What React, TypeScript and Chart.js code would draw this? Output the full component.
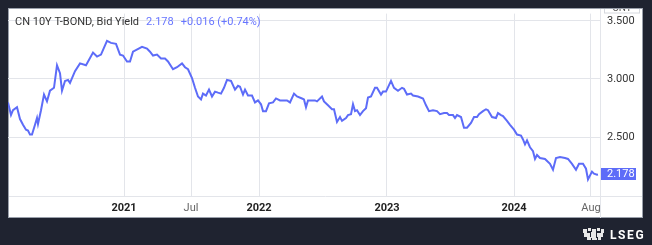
import React, { useEffect, useRef } from "react";
import { Chart, registerables } from "chart.js";

Chart.register(...registerables);

// bar index (session position along the time axis)
const barIndex = [
  0, 1.2, 2.0, 3.6, 4.8, 6.0, 7.2, 8.0, 8.8, 9.6, 10.8, 11.6, 12.0, 13.2, 14.4, 15.6, 16.8, 18.4, 19.6, 20.8,
  21.6, 22.8, 24.0, 24.8, 26.8, 28.8, 31.2, 34.0, 35.6, 37.2, 39.6, 41.2, 43.2, 44.8, 46.0, 47.6, 48.8, 50.0, 53.6, 55.6,
  56.8, 58.0, 59.6, 61.2, 62.8, 64.0, 66.0, 67.6, 69.6, 70.8, 72.0, 73.6, 74.8, 76.0, 77.2, 78.0, 79.2, 80.4, 81.6, 82.8,
  84.0, 85.2, 86.4, 87.6, 89.2, 90.8, 92.0, 92.8, 94.0, 94.8, 96.0, 97.6, 98.8, 100.0, 101.2, 102.0, 103.2, 104.4, 106.0, 107.2,
  108.8, 110.0, 111.6, 112.8, 114.4, 115.6, 117.6, 118.4, 119.2, 120.0, 122.8, 123.6, 125.6, 126.4, 128.0, 129.6, 130.4, 131.6, 132.8, 133.6,
  135.2, 136.0, 137.2, 138.0, 138.8, 139.6, 140.8, 142.0, 143.2, 144.0, 145.2, 146.8, 147.6, 149.2, 150.0, 151.2, 153.2, 154.4, 156.0, 157.6,
  158.4, 159.6, 161.2, 162.0, 164.0, 166.0, 167.2, 168.4, 170.0, 171.6, 172.8, 174.4, 175.6, 176.4, 178.0, 178.8, 179.6, 181.2, 182.4, 183.6,
  185.2, 186.4, 187.6, 188.4, 190.0, 191.2, 192.0, 193.6, 195.2, 196.0, 197.2, 198.0, 199.6, 200.8, 202.4, 203.6, 205.2, 206.0, 206.8, 207.6,
  208.8, 210.0, 210.8, 211.6, 212.8, 214.8, 216.8, 218.0, 219.2, 220.8, 222.8, 224.0, 225.6, 227.2, 228.4, 230.0, 231.2, 232.0, 233.6, 234.4,
  235.6, 236.0,
];

// CN 10Y bid yield (%)
const yieldValues = [
  2.798, 2.689, 2.731, 2.756, 2.655, 2.605, 2.563, 2.555, 2.521, 2.521, 2.605, 2.664, 2.613, 2.731, 2.866, 2.807, 2.899, 2.924, 3.118, 3.05,
  2.899, 2.983, 2.992, 2.966, 3.067, 3.134, 3.118, 3.227, 3.193, 3.21, 3.328, 3.311, 3.303, 3.21, 3.202, 3.151, 3.151, 3.235, 3.277, 3.261,
  3.235, 3.202, 3.21, 3.176, 3.176, 3.151, 3.084, 3.101, 3.134, 3.101, 3.084, 3.008, 2.924, 2.849, 2.824, 2.874, 2.857, 2.908, 2.849, 2.891,
  2.882, 2.874, 2.924, 2.992, 2.983, 2.908, 2.941, 2.933, 2.866, 2.908, 2.857, 2.857, 2.798, 2.815, 2.782, 2.723, 2.723, 2.79, 2.798, 2.832,
  2.815, 2.815, 2.815, 2.798, 2.874, 2.849, 2.832, 2.824, 2.756, 2.815, 2.815, 2.807, 2.849, 2.807, 2.773, 2.739, 2.739, 2.63, 2.672, 2.639,
  2.664, 2.689, 2.697, 2.782, 2.723, 2.731, 2.689, 2.723, 2.748, 2.84, 2.849, 2.924, 2.924, 2.866, 2.891, 2.891, 2.983, 2.924, 2.899, 2.924,
  2.916, 2.866, 2.874, 2.857, 2.849, 2.832, 2.773, 2.723, 2.731, 2.723, 2.697, 2.706, 2.706, 2.689, 2.689, 2.664, 2.689, 2.672, 2.58, 2.58,
  2.622, 2.672, 2.672, 2.697, 2.723, 2.739, 2.731, 2.672, 2.664, 2.706, 2.689, 2.681, 2.639, 2.605, 2.563, 2.521, 2.513, 2.479, 2.437, 2.471,
  2.412, 2.378, 2.311, 2.345, 2.319, 2.311, 2.269, 2.218, 2.319, 2.328, 2.319, 2.311, 2.269, 2.218, 2.269, 2.269, 2.227, 2.134, 2.202, 2.185,
  2.176, 2.178,
];

const xTickPositions = [46.4, 73.2, 100.4, 151.6, 202.4, 233.2];
const xTickLabels = ["2021", "Jul", "2022", "2023", "2024", "Aug"];
const xTickIsYear = [true, false, true, true, true, false];
const yTickValues = [2.5, 3.0, 3.5];

const title = "CN 10Y T-BOND, Bid Yield";
const lastValue = 2.178;
const change = 0.016;
const changePct = 0.74;
const currency = "CNY";

const BG = "#1f2330";
const LINE = "#5d6cf8";
const BLUE_TEXT = "#6775ff";
const GRID = "#e3e5ea";
const FONT = "Roboto, 'Noto Sans', sans-serif";

const decorPlugin = {
  id: "decor",
  beforeDraw(chart: any) {
    const { ctx, width, height } = chart;
    ctx.save();
    ctx.fillStyle = BG;
    ctx.fillRect(0, 0, width, height);
    ctx.fillStyle = "#ffffff";
    ctx.fillRect(8, 8, 635, 210);
    ctx.strokeStyle = "#9aa0ab";
    ctx.lineWidth = 1;
    ctx.strokeRect(8.5, 8.5, 634, 209);
    ctx.restore();
  },
  afterDraw(chart: any) {
    const { ctx, chartArea } = chart;
    const yScale = chart.scales.y;
    ctx.save();
    // axis separators
    ctx.strokeStyle = GRID;
    ctx.lineWidth = 1;
    ctx.beginPath();
    ctx.moveTo(chartArea.right + 0.5, 9);
    ctx.lineTo(chartArea.right + 0.5, 218);
    ctx.moveTo(9, chartArea.bottom + 0.5);
    ctx.lineTo(642, chartArea.bottom + 0.5);
    ctx.stroke();

    // CNY unit label (mostly hidden above the panel top)
    ctx.save();
    ctx.beginPath();
    ctx.rect(601, 9, 41, 20);
    ctx.clip();
    ctx.strokeStyle = "#d5d8de";
    ctx.strokeRect(604.5, 0.5, 35, 12.5);
    ctx.fillStyle = "#555";
    ctx.font = `10px ${FONT}`;
    ctx.textBaseline = "alphabetic";
    ctx.textAlign = "center";
    ctx.fillText(currency, 622, 11);
    ctx.restore();

    // title
    ctx.textBaseline = "middle";
    ctx.textAlign = "left";
    ctx.font = `11px ${FONT}`;
    let x = 15;
    const ty = 22;
    ctx.fillStyle = "#333";
    ctx.fillText(title, x, ty);
    x += ctx.measureText(title).width + 7;
    ctx.fillStyle = BLUE_TEXT;
    const lastTxt = lastValue.toFixed(3);
    ctx.fillText(lastTxt, x, ty);
    x += ctx.measureText(lastTxt).width + 7;
    ctx.fillText(`+${change.toFixed(3)} (+${changePct.toFixed(2)}%)`, x, ty);

    // last price label
    const py = yScale.getPixelForValue(yieldValues[yieldValues.length - 1]);
    ctx.fillStyle = LINE;
    ctx.fillRect(chartArea.right + 1, Math.round(py) - 6, 35, 12);
    ctx.fillStyle = "#ffffff";
    ctx.font = `11px ${FONT}`;
    ctx.textAlign = "left";
    ctx.fillText(yieldValues[yieldValues.length - 1].toFixed(3), chartArea.right + 7, Math.round(py) + 0.5);

    // LSEG logo
    ctx.fillStyle = "#ffffff";
    ctx.font = `bold 12px ${FONT}`;
    ctx.textBaseline = "alphabetic";
    const letters = "LSEG".split("");
    let lx = 610;
    for (const ch of letters) {
      ctx.fillText(ch, lx, 239);
      lx += ctx.measureText(ch).width + 1.6;
    }
    // crest mark
    ctx.fillStyle = "#e8e8e8";
    const crest = [
      [583, 229, 4, 4], [588, 228, 3, 3], [592, 229, 4, 3], [597, 228, 3, 3], [601, 229, 3, 4],
      [584, 233, 6, 4], [591, 232, 5, 6], [597, 233, 6, 4], [587, 237, 4, 3], [592, 238, 5, 2], [598, 237, 3, 3],
    ];
    for (const [a, b, c, d] of crest) ctx.fillRect(a, b, c, d);
    ctx.restore();
  },
};

export default function App() {
  const canvasRef = useRef<HTMLCanvasElement | null>(null);

  useEffect(() => {
    document.body.style.margin = "0";
    document.body.style.background = BG;
    const canvas = canvasRef.current;
    if (!canvas) return;
    const points = barIndex.map((b, i) => ({ x: b, y: yieldValues[i] }));
    const chart = new Chart(canvas, {
      type: "line",
      data: {
        datasets: [
          {
            data: points,
            borderColor: LINE,
            borderWidth: 2,
            pointRadius: 0,
            tension: 0,
            fill: false,
          },
        ],
      },
      options: {
        animation: false,
        responsive: false,
        devicePixelRatio: 1,
        layout: { padding: { left: 8, top: 9, right: 9, bottom: 27 } },
        plugins: { legend: { display: false }, tooltip: { enabled: false } },
        scales: {
          x: {
            type: "linear",
            min: 0,
            max: 236.8,
            afterFit: (s: any) => {
              s.height = 22;
            },
            afterBuildTicks: (s: any) => {
              s.ticks = xTickPositions.map((v) => ({ value: v }));
            },
            grid: { color: GRID, drawTicks: false },
            border: { display: false },
            ticks: {
              autoSkip: false,
              maxRotation: 0,
              padding: 6,
              callback: (v: any) => {
                const i = xTickPositions.indexOf(Number(v));
                return i >= 0 ? xTickLabels[i] : "";
              },
              font: (c: any) => ({
                family: FONT,
                size: 11,
                weight: xTickIsYear[c.index] ? "bold" : "normal",
              }),
              color: (c: any) => (xTickIsYear[c.index] ? "#222" : "#666"),
            },
          },
          y: {
            type: "linear",
            position: "right",
            min: 1.992,
            max: 3.563,
            afterFit: (s: any) => {
              s.width = 43;
            },
            afterBuildTicks: (s: any) => {
              s.ticks = yTickValues.map((v) => ({ value: v }));
            },
            grid: { color: GRID, drawTicks: false },
            border: { display: false },
            ticks: {
              padding: 7,
              color: "#333",
              font: { family: FONT, size: 11 },
              callback: (v: any) => Number(v).toFixed(3),
            },
          },
        },
      },
      plugins: [decorPlugin],
    });
    return () => chart.destroy();
  }, []);

  return (
    <div style={{ position: "fixed", left: 0, top: 0, width: 652, height: 245, background: BG }}>
      <canvas ref={canvasRef} width={652} height={245} style={{ display: "block", width: 652, height: 245 }} />
    </div>
  );
}
